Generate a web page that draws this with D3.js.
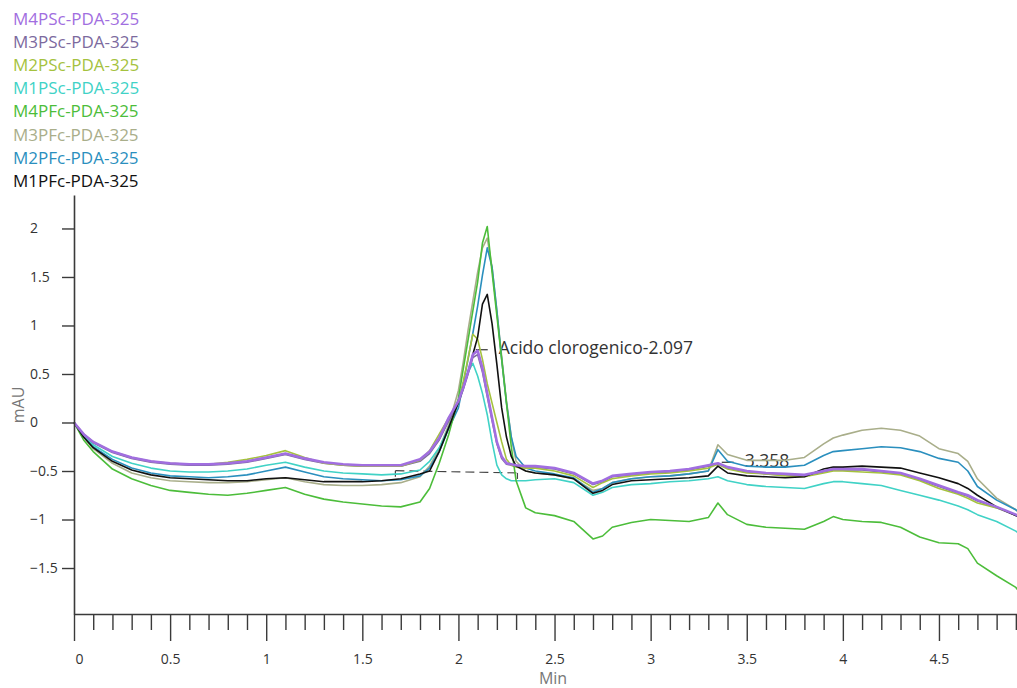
<!DOCTYPE html>
<html>
<head>
<meta charset="utf-8">
<script src="https://cdn.jsdelivr.net/npm/d3@7/dist/d3.min.js"></script>
<style>
  html, body { margin: 0; padding: 0; background: #fff; }
  svg { display: block; font-family: "Open Sans", "Noto Sans", sans-serif; }
</style>
</head>
<body>
<svg id="chart" width="1017" height="688"></svg>
<script>
// Retention time grid (min), denser around the main peak
const times = [
  0, 0.05, 0.1, 0.2, 0.3, 0.4, 0.5, 0.6, 0.7, 0.8, 0.9, 1.0, 1.1, 1.2, 1.3, 1.4, 1.5, 1.6, 1.7, 1.8,
  1.85, 1.9, 1.95, 2.0, 2.025, 2.05, 2.075, 2.1, 2.125, 2.15, 2.175, 2.2, 2.225, 2.25, 2.275, 2.3, 2.35, 2.4,
  2.5, 2.6, 2.7, 2.75, 2.8, 2.9, 3.0, 3.1, 3.2, 3.3, 3.35, 3.4,
  3.5, 3.6, 3.7, 3.8, 3.9, 3.95, 4.0, 4.1, 4.2, 4.3, 4.4, 4.5, 4.6, 4.65, 4.7, 4.8, 4.9, 4.92
];

// Absorbance traces (mAU) at 325 nm
const m4PSc = [
  0, -0.12, -0.2, -0.3, -0.36, -0.4, -0.42, -0.43, -0.43, -0.42, -0.4, -0.36, -0.32, -0.37, -0.41, -0.43, -0.44, -0.44, -0.44, -0.38,
  -0.3, -0.16, 0.05, 0.22, 0.36, 0.52, 0.7, 0.74, 0.56, 0.3, 0.05, -0.2, -0.35, -0.42, -0.43, -0.44, -0.45, -0.45,
  -0.47, -0.52, -0.63, -0.6, -0.55, -0.53, -0.51, -0.5, -0.48, -0.44, -0.42, -0.46,
  -0.5, -0.52, -0.53, -0.54, -0.5, -0.48, -0.48, -0.48, -0.5, -0.52, -0.58, -0.65, -0.72, -0.75, -0.8, -0.87, -0.95, -0.97
];
const m3PSc = [
  0, -0.12, -0.21, -0.31, -0.37, -0.41, -0.43, -0.44, -0.44, -0.43, -0.41, -0.37, -0.33, -0.38, -0.42, -0.44, -0.45, -0.45, -0.45, -0.4,
  -0.32, -0.18, 0.02, 0.2, 0.34, 0.5, 0.67, 0.7, 0.52, 0.27, 0.02, -0.22, -0.37, -0.43, -0.44, -0.45, -0.46, -0.46,
  -0.48, -0.53, -0.64, -0.61, -0.56, -0.54, -0.52, -0.51, -0.49, -0.45, -0.43, -0.47,
  -0.51, -0.53, -0.54, -0.55, -0.51, -0.49, -0.49, -0.49, -0.51, -0.53, -0.59, -0.66, -0.73, -0.76, -0.81, -0.88, -0.96, -0.98
];
const m2PSc = [
  0, -0.12, -0.2, -0.3, -0.36, -0.4, -0.42, -0.43, -0.43, -0.41, -0.38, -0.34, -0.29, -0.36, -0.42, -0.44, -0.45, -0.45, -0.45, -0.39,
  -0.29, -0.12, 0.05, 0.21, 0.42, 0.66, 0.91, 0.86, 0.65, 0.4, 0.2, 0.0, -0.2, -0.38, -0.44, -0.46, -0.47, -0.47,
  -0.5, -0.55, -0.67, -0.62, -0.58, -0.55, -0.53, -0.52, -0.5, -0.47, -0.43, -0.48,
  -0.52, -0.53, -0.55, -0.56, -0.52, -0.5, -0.5, -0.51, -0.52, -0.54, -0.6, -0.68, -0.74, -0.78, -0.83, -0.88, -0.95, -0.96
];
const m1PSc = [
  0, -0.13, -0.23, -0.35, -0.42, -0.47, -0.5, -0.51, -0.51, -0.5, -0.48, -0.44, -0.41, -0.46, -0.5, -0.52, -0.53, -0.54, -0.53, -0.49,
  -0.4, -0.26, -0.05, 0.2, 0.35, 0.52, 0.61, 0.48, 0.3, 0.08, -0.2, -0.44, -0.54, -0.58, -0.6, -0.6, -0.6, -0.59,
  -0.58, -0.62, -0.75, -0.72, -0.67, -0.64, -0.63, -0.61, -0.6, -0.58, -0.56, -0.6,
  -0.64, -0.66, -0.67, -0.68, -0.63, -0.61, -0.61, -0.63, -0.65, -0.7, -0.75, -0.8, -0.86, -0.9, -0.95, -1.02, -1.12, -1.15
];
const m4PFc = [
  0, -0.18, -0.3, -0.48, -0.58, -0.65, -0.7, -0.72, -0.74, -0.75, -0.73, -0.7, -0.67, -0.74, -0.79, -0.82, -0.84, -0.86, -0.87, -0.82,
  -0.68, -0.42, -0.12, 0.25, 0.55, 0.85, 1.15, 1.45, 1.85, 2.02, 1.55, 1.1, 0.65, 0.2, -0.25, -0.6, -0.88, -0.93,
  -0.96, -1.02, -1.2, -1.17, -1.08, -1.03, -1.0, -1.01, -1.02, -0.98, -0.83, -0.95,
  -1.05, -1.08, -1.09, -1.1, -1.02, -0.97, -1.0, -1.02, -1.03, -1.08, -1.18, -1.24, -1.25, -1.3, -1.45, -1.58, -1.7, -1.75
];
const m3PFc = [
  0, -0.15, -0.27, -0.42, -0.52, -0.57, -0.6, -0.61, -0.62, -0.62, -0.61, -0.59, -0.57, -0.61, -0.64, -0.65, -0.65, -0.64, -0.62, -0.56,
  -0.45, -0.27, -0.02, 0.33, 0.62, 0.95, 1.25, 1.55, 1.8, 1.9, 1.6, 1.15, 0.68, 0.22, -0.15, -0.4, -0.5, -0.52,
  -0.54, -0.58, -0.7, -0.68, -0.62, -0.58, -0.56, -0.55, -0.53, -0.5, -0.23, -0.33,
  -0.39, -0.39, -0.39, -0.36, -0.22, -0.16, -0.13, -0.08, -0.06, -0.08, -0.14, -0.27, -0.32, -0.4, -0.58, -0.78, -0.9, -0.93
];
const m2PFc = [
  0, -0.14, -0.25, -0.38, -0.47, -0.52, -0.55, -0.56, -0.57, -0.56, -0.54, -0.5, -0.46, -0.51, -0.56, -0.58, -0.59, -0.6, -0.59, -0.55,
  -0.47, -0.3, -0.06, 0.15, 0.4, 0.65, 0.92, 1.2, 1.52, 1.8, 1.6, 1.15, 0.65, 0.2, -0.15, -0.35, -0.47, -0.5,
  -0.53, -0.57, -0.72, -0.68, -0.62, -0.58, -0.56, -0.55, -0.53, -0.5, -0.28, -0.4,
  -0.45, -0.46, -0.46, -0.44, -0.34, -0.3, -0.29, -0.27, -0.25, -0.26, -0.3, -0.37, -0.41, -0.5, -0.66, -0.8, -0.9, -0.93
];
const m1PFc = [
  0, -0.15, -0.26, -0.4, -0.49, -0.54, -0.57, -0.58, -0.59, -0.6, -0.6, -0.58, -0.57, -0.59, -0.61, -0.61, -0.61, -0.6, -0.58, -0.53,
  -0.5, -0.3, -0.05, 0.21, 0.36, 0.52, 0.7, 0.88, 1.22, 1.32, 1.02, 0.6, 0.15, -0.15, -0.35, -0.45, -0.5, -0.52,
  -0.54, -0.58, -0.73, -0.7, -0.64, -0.6, -0.59, -0.58, -0.57, -0.55, -0.45, -0.52,
  -0.55, -0.56, -0.57, -0.56, -0.48, -0.46, -0.46, -0.45, -0.46, -0.47, -0.52, -0.57, -0.63, -0.68, -0.75, -0.87, -0.96, -0.98
];

// Legend order (top to bottom) and colours
const seriesNames = [
  "M4PSc-PDA-325", "M3PSc-PDA-325", "M2PSc-PDA-325", "M1PSc-PDA-325",
  "M4PFc-PDA-325", "M3PFc-PDA-325", "M2PFc-PDA-325", "M1PFc-PDA-325"
];
const seriesValues = [m4PSc, m3PSc, m2PSc, m1PSc, m4PFc, m3PFc, m2PFc, m1PFc];
const seriesColors = ["#a16ee0", "#7c6a9e", "#a5c23e", "#40d2c6", "#4cbd3a", "#a9ae8a", "#2a8fbe", "#111111"];
// Paint order of traces (indices into seriesNames); last is on top
const drawOrder = [5, 6, 3, 1, 2, 4, 7, 0];

// Axis ticks
const xMajorTicks = [0, 0.5, 1, 1.5, 2, 2.5, 3, 3.5, 4, 4.5];
const xMinorTicks = d3.range(0, 50).map(i => i / 10);
const yTicks = [-1.5, -1, -0.5, 0, 0.5, 1, 1.5, 2];

// Peak annotations and integration baseline
const peakLabels = [
  { text: "Acido clorogenico-2.097", t: 2.09, v: 0.75 },
  { text: "3.358", t: 3.37, v: -0.41 }
];
const baselineTimes = [1.672, 2.307];
const baselineValues = [-0.497, -0.52];

const svg = d3.select("#chart");
const x = d3.scaleLinear().domain([0, 4.906]).range([74, 1017]);
const y = d3.scaleLinear().domain([-1.974, 2.345]).range([614, 195]);

// Peak annotation labels (drawn beneath the traces)
const ann = svg.append("g").attr("class", "annotations");
peakLabels.forEach(p => {
  const px = x(p.t), py = y(p.v);
  ann.append("line")
    .attr("x1", px).attr("x2", px + 12).attr("y1", py).attr("y2", py)
    .attr("stroke", "#333").attr("stroke-width", 1.2);
  ann.append("text")
    .attr("x", px + 23).attr("y", py)
    .attr("dominant-baseline", "middle")
    .attr("font-size", 17.5).attr("fill", "#333")
    .text(p.text);
});

// Integration baseline (dashed) with end markers
const bx = baselineTimes.map(x), by = baselineValues.map(y);
ann.append("line")
  .attr("x1", bx[0]).attr("y1", by[0]).attr("x2", bx[1]).attr("y2", by[1])
  .attr("stroke", "#444").attr("stroke-width", 1.2).attr("stroke-dasharray", "9,5");
[0, 1].forEach(i => {
  ann.append("line")
    .attr("x1", bx[i]).attr("x2", bx[i]).attr("y1", by[i]).attr("y2", by[i] + 6)
    .attr("stroke", "#444").attr("stroke-width", 1.2);
});

// Traces
const line = d3.line().x((d, i) => x(times[i])).y(d => y(d));
const traces = svg.append("g").attr("class", "traces");
drawOrder.forEach(k => {
  traces.append("path")
    .datum(seriesValues[k])
    .attr("fill", "none")
    .attr("stroke", seriesColors[k])
    .attr("stroke-width", k === 0 ? 2.6 : 1.6)
    .attr("stroke-linejoin", "round")
    .attr("d", line);
});

// X axis with minor and major ticks
const xAxis = svg.append("g").attr("transform", "translate(0,614)")
  .call(d3.axisBottom(x).tickValues(xMinorTicks).tickSizeInner(16).tickSizeOuter(0)
    .tickFormat(d => xMajorTicks.some(m => Math.abs(m - d) < 1e-9) ? d3.format("")(+d.toFixed(1)) : ""));
xAxis.select(".domain").attr("stroke", "#3a3a3a").attr("stroke-width", 1.6);
xAxis.selectAll(".tick").each(function(d) {
  const major = xMajorTicks.some(m => Math.abs(m - d) < 1e-9);
  const g = d3.select(this);
  g.select("line").attr("y2", major ? 27 : 16).attr("stroke", "#3a3a3a").attr("stroke-width", 1.4);
  g.select("text").attr("y", 45).attr("dy", "0.35em")
    .attr("font-size", 14).attr("fill", "#333").attr("font-family", "'Open Sans', sans-serif");
  if (d === 0) g.select("text").attr("text-anchor", "start").attr("x", 1);
});

// Y axis
const yAxis = svg.append("g").attr("transform", "translate(74,0)")
  .call(d3.axisLeft(y).tickValues(yTicks).tickSizeInner(12).tickSizeOuter(0).tickFormat(d3.format("")));
yAxis.select(".domain").attr("stroke", "#3a3a3a").attr("stroke-width", 1.6);
yAxis.selectAll(".tick line").attr("stroke", "#3a3a3a").attr("stroke-width", 1.4);
yAxis.selectAll(".tick text")
  .attr("x", -44).attr("text-anchor", "start")
  .attr("font-size", 14).attr("fill", "#333").attr("font-family", "'Open Sans', sans-serif");

// Axis titles
svg.append("text").attr("x", 553).attr("y", 680).attr("text-anchor", "middle")
  .attr("dominant-baseline", "middle").attr("font-size", 16).attr("fill", "#777").text("Min");
svg.append("text").attr("transform", "translate(20,405) rotate(-90)").attr("text-anchor", "middle")
  .attr("dominant-baseline", "middle").attr("font-size", 16).attr("fill", "#777").text("mAU");

// Legend
const legend = svg.append("g").attr("class", "legend");
seriesNames.forEach((name, i) => {
  legend.append("text")
    .attr("x", 13).attr("y", 20 + i * 23.2)
    .attr("dominant-baseline", "middle")
    .attr("font-size", 17).attr("fill", seriesColors[i])
    .text(name);
});
</script>
</body>
</html>
